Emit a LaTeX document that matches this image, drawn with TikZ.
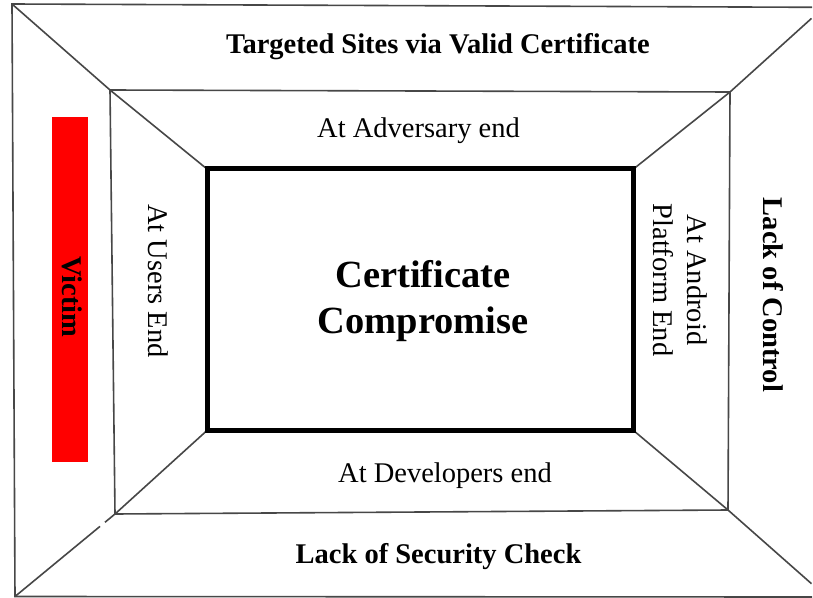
\documentclass[tikz,border=0pt]{standalone}
\usepackage{fontspec}
\setmainfont{Liberation Serif}
\usetikzlibrary{calc}
\begin{document}
\begin{tikzpicture}[x=1bp,y=-1bp,
  frameline/.style={draw=black!72,line width=1.6bp},
  core/.style={draw=black,line width=5bp},
  lbl/.style={font=\fontsize{28.6}{34.1}\selectfont,inner sep=0pt},
  blbl/.style={font=\fontsize{28.6}{34.1}\selectfont\bfseries,inner sep=0pt},
  bigbl/.style={font=\fontsize{38.6}{46.2}\selectfont\bfseries,inner sep=0pt,align=center}]
\path[fill=white] (0,0) rectangle (813,598);
\useasboundingbox (0,0) rectangle (813,598);

% outer frame corners
\coordinate (o1) at (12,4);
\coordinate (o2) at (811.5,18.4);
\coordinate (o3) at (811.5,583.7);
\coordinate (o4) at (15,596.5);
% middle frame corners
\coordinate (m1) at (110,90);
\coordinate (m2) at (730,92);
\coordinate (m3) at (728,510);
\coordinate (m4) at (115,514);
% inner box corners
\coordinate (c1) at (207,169);
\coordinate (c2) at (633.5,169);
\coordinate (c3) at (633.5,430.5);
\coordinate (c4) at (207,430.5);
% ends of the outer top and bottom edges
\coordinate (t2) at (812,7.3);
\coordinate (b2) at (812,597);

% outer frame
\draw[frameline] (t2) -- (o1) -- (o4) -- (b2);
% middle frame
\draw[frameline] (m1) -- (m2) -- (m3) -- (m4) -- cycle;
% corner diagonals
\draw[frameline] (o1) -- (m1) -- (c1);
\draw[frameline] (o2) -- (m2) -- (c2);
\draw[frameline] (o3) -- (m3) -- (c3);
\draw[frameline] (o4) -- ($(o4)!0.85!(m4)$);
\draw[frameline] ($(o4)!0.9!(m4)$) -- (m4) -- (c4);
% inner box
\draw[core] (c1) rectangle (c3);

% red bar
\fill[red] (52,117) rectangle (88,462);

% labels
\node[blbl,anchor=base] (top) at (438,54) {Targeted Sites via Valid Certificate};
\node[lbl,anchor=base] (adv) at (418.5,138) {At Adversary end};
\node[bigbl] (core) at (423,301) {Certificate\\Compromise};
\node[lbl,anchor=base] (dev) at (445,482) {At Developers end};
\node[blbl,anchor=base] (sec) at (438.5,563) {Lack of Security Check};
\node[blbl,rotate=-90,anchor=base] (ctl) at (763,295) {Lack of Control};
\node[lbl,rotate=-90,anchor=base] (usr) at (148,281) {At Users End};
\node[blbl,rotate=-90,anchor=base] (vic) at (62,297) {Victim};
\node[lbl,rotate=-90,align=center] (andr) at (680,280) {At Android\\Platform End};
\end{tikzpicture}
\end{document}
